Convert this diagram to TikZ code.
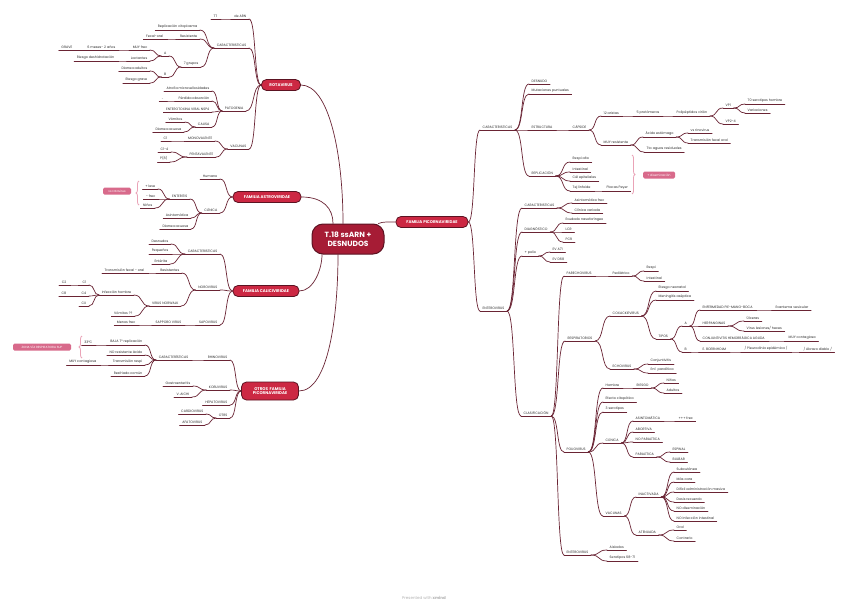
\documentclass[tikz,border=0pt]{standalone}
\usepackage{fontspec}
\setmainfont{Poppins}
\usetikzlibrary{calc,decorations.pathreplacing}
\definecolor{lnc}{HTML}{6A2434}
\definecolor{txc}{HTML}{2C2C2C}
\definecolor{mbf}{HTML}{CC2843}
\definecolor{mbd}{HTML}{5C1322}
\definecolor{ctf}{HTML}{A61C35}
\definecolor{pkf}{HTML}{D86A8B}
\definecolor{pkl}{HTML}{EAA3B7}
\tikzset{
  lc/.style={draw=lnc, line width=0.7pt, line cap=round},
  tn/.style={font=\fontsize{3.35}{4}\selectfont, text=txc, inner xsep=2.5pt, inner ysep=1.2pt},
  rn/.style={tn, anchor=south west},
  ln/.style={tn, anchor=south east},
  mb/.style={rounded corners=5pt, fill=mbf, draw=mbd, line width=0.8pt, text=white,
    font=\fontsize{4}{5}\selectfont\bfseries, minimum height=11pt, inner xsep=3pt, inner ysep=1pt},
  pk/.style={rounded corners=1.5pt, fill=pkf, text=white, font=\fontsize{3}{4}\selectfont,
    minimum height=7pt, inner xsep=2pt, inner ysep=0.5pt},
  brk/.style={draw=pkl, line width=0.8pt, decorate, decoration={brace, amplitude=3pt}},
}
\newcommand{\myR}[4]{\node[rn] (#1) at (#2,#3) {#4}; \draw[lc] (#1.south west) -- (#1.south east);}
\newcommand{\myL}[4]{\node[ln] (#1) at (#2,#3) {#4}; \draw[lc] (#1.south west) -- (#1.south east);}
\newcommand{\lnk}[2]{\draw[lc] let \p1=(#1),\p2=(#2),\n1={0.6*(\x2-\x1)} in (\p1) .. controls ({\x1+(\n1)},\y1) and ({\x2-(\n1)},\y2) .. (\p2);}
\newcommand{\cR}[2]{\lnk{#1.south east}{#2.south west}}
\newcommand{\cL}[2]{\lnk{#1.south west}{#2.south east}}
\newcommand{\cRb}[2]{\lnk{#1.east}{#2.south west}}
\newcommand{\cLb}[2]{\lnk{#1.west}{#2.south east}}
\begin{document}
\begin{tikzpicture}[x=1pt,y=-1pt]
\useasboundingbox (0,0) rectangle (848,605);
\fill[white] (0,0) rectangle (848,605);

% ===== centre and main branches
\node[rounded corners=11pt, fill=ctf, draw=mbd, line width=1pt, text=white, align=center,
  font=\fontsize{7.5}{9}\selectfont\bfseries, minimum width=72pt, minimum height=30pt, inner sep=1pt]
  (ctr) at (348,239) {T.18 ssARN +\\DESNUDOS};
\node[mb,minimum width=39pt] (rot) at (281,85) {ROTAVIRUS};
\node[mb,minimum width=68pt] (ast) at (267,197) {FAMILIA ASTROVIRIDAE};
\node[mb,minimum width=66pt] (cal) at (266,291) {FAMILIA CALICIVIRIDAE};
\node[mb,minimum width=57pt,minimum height=18pt,align=center,font=\fontsize{4}{4.8}\selectfont\bfseries] (otr) at (270,391) {OTROS\ \ FAMILIA\\PICORNAVIRIDAE};
\node[mb,minimum width=72pt] (pic) at (432,222) {FAMILIA PICORNAVIRIDAE};

\draw[lc] (rot.east) .. controls +(28,0) and +(0,-70) .. ([xshift=-5pt]ctr.north);
\draw[lc] (ast.east) .. controls +(22,0) and +(0,-15) .. ([xshift=-15pt]ctr.north);
\draw[lc] (cal.east) .. controls +(14,0) and +(0,15) .. ([xshift=-26pt]ctr.south);
\draw[lc] (otr.east) .. controls +(30,0) and +(0,60) .. ([xshift=-10pt]ctr.south);
\draw[lc] ([xshift=-6pt]ctr.north east) .. controls +(4,-2) and +(-6,0) .. (pic.west);

% ===== ROTAVIRUS
\myL{rA}{249}{19}{de ARN}
\myL{rAa}{220}{19}{TT}
\myL{rB}{249}{48}{CARACTERISTICAS}
\myL{rB1}{200}{30}{Replicación citoplasma}
\myL{rB2}{200}{39}{Resistente}
\myL{rB2a}{166}{39}{Fecal-oral}
\myL{rB3}{201}{67}{7 grupos}
\myL{rB3a}{169}{56}{A}
\myL{rB3a1}{150}{50}{MUY frec}
\myL{rB3a1a}{118}{50}{6 meses- 2 años}
\myL{rB3a1b}{75}{50}{GRAVE}
\myL{rB3a2}{150}{61}{Lactantes}
\myL{rB3a2a}{117}{61}{Riesgo deshidratación}
\myL{rB3b}{169}{77}{B}
\myL{rB3b1}{150}{71}{Diarrea adultos}
\myL{rB3b2}{150}{83}{Riesgo grave}
\myL{rC}{246}{111}{PATOGENIA}
\myL{rC1}{212}{91}{Atrofia microvellosidades}
\myL{rC2}{212}{101}{Pérdida absorción}
\myL{rC2a}{166}{101}{..}
\myL{rC3}{212}{112}{ENTEROTOXINA VIRAL NSP4}
\myL{rC4}{212}{127}{CAUSA}
\myL{rC4a}{185}{122}{Vómitos}
\myL{rC4b}{184}{132}{Diarrea acuosa}
\myL{rD}{249}{149}{VACUNAS}
\myL{rD1}{215}{141}{MONOVALENTE}
\myL{rD1a}{170}{141}{C1}
\myL{rD2}{216}{157}{PENTAVALENTE}
\myL{rD2a}{171}{152}{C1-4}
\myL{rD2b}{170}{162}{P(8)}
\cLb{rot}{rA} \cL{rA}{rAa}
\cLb{rot}{rB} \cL{rB}{rB1} \cL{rB}{rB2} \cL{rB2}{rB2a} \cL{rB}{rB3}
\cL{rB3}{rB3a} \cL{rB3a}{rB3a1} \cL{rB3a1}{rB3a1a} \cL{rB3a1a}{rB3a1b} \cL{rB3a}{rB3a2} \cL{rB3a2}{rB3a2a}
\cL{rB3}{rB3b} \cL{rB3b}{rB3b1} \cL{rB3b}{rB3b2}
\cLb{rot}{rC} \cL{rC}{rC1} \cL{rC}{rC2} \cL{rC2}{rC2a} \cL{rC}{rC3} \cL{rC}{rC4} \cL{rC4}{rC4a} \cL{rC4}{rC4b}
\cLb{rot}{rD} \cL{rD}{rD1} \cL{rD1}{rD1a} \cL{rD}{rD2} \cL{rD2}{rD2a} \cL{rD2}{rD2b}

% ===== ASTROVIRIDAE
\myL{aA}{220}{179}{Humano}
\myL{aB}{220}{213}{CLÍNICA}
\myL{aB1}{190}{199}{ENTERITIS}
\myL{aB1a}{158}{189}{+ leve}
\myL{aB1b}{158}{199}{- frec}
\myL{aB1c}{155}{208}{Niños}
\myL{aB2}{191}{218}{Asintomática}
\myL{aB3}{191}{229}{Diarrea acuosa}
\cLb{ast}{aA} \cLb{ast}{aB} \cL{aB}{aB1} \cL{aB1}{aB1a} \cL{aB1}{aB1b} \cL{aB1}{aB1c} \cL{aB}{aB2} \cL{aB}{aB3}
\draw[brk] (139,205) -- (139,181);
\node[pk,minimum width=28pt] (vsr) at (117,191) {vs rotavirus};

% ===== CALICIVIRIDAE
\myL{cA}{220}{254}{CARACTERISTICAS}
\myL{cA1}{171}{244}{Desnudos}
\myL{cA2}{171}{254}{Pequeños}
\myL{cA3}{170}{264}{Entérita}
\myL{cB}{220}{290}{NOROVIRUS}
\myL{cB1}{182}{273}{Resistentes}
\myL{cB1a}{147}{273}{Transmisión fecal - oral}
\myL{cB2}{181}{306}{VIRUS NORWALK}
\myL{cB2a}{134}{295}{Infección hombre}
\myL{cB2a1}{89}{285}{C1}
\myL{cB2a1a}{69}{285}{C2}
\myL{cB2a2}{89}{296}{C4}
\myL{cB2a2a}{69}{296}{C8}
\myL{cB2a3}{89}{306}{CX}
\myL{cB2b}{135}{316}{Vómitos ??}
\myL{cC}{220}{325}{SAPOVIRUS}
\myL{cC1}{184}{325}{SAPPORO VIRUS}
\myL{cC1a}{138}{325}{Menos frec}
\cLb{cal}{cA} \cL{cA}{cA1} \cL{cA}{cA2} \cL{cA}{cA3}
\cLb{cal}{cB} \cL{cB}{cB1} \cL{cB1}{cB1a} \cL{cB}{cB2} \cL{cB2}{cB2a}
\cL{cB2a}{cB2a1} \cL{cB2a1}{cB2a1a} \cL{cB2a}{cB2a2} \cL{cB2a2}{cB2a2a} \cL{cB2a}{cB2a3} \cL{cB2}{cB2b}
\cLb{cal}{cC} \cL{cC}{cC1} \cL{cC1}{cC1a}

% ===== OTROS
\myL{oA}{230}{360}{RHINOVIRUS}
\myL{oA1}{191}{360}{CARACTERÍSTICAS}
\myL{oA1a}{145}{345}{BAJA T° replicación}
\myL{oA1a1}{95}{345}{33ºC}
\myL{oA1b}{145}{355}{NO resistente ácido}
\myL{oA1c}{145}{365}{Transmisión respi}
\myL{oA1c1}{99}{365}{MUY contagiosa}
\myL{oA1d}{145}{376}{Resfriado común}
\myL{oB}{230}{390}{KOBUVIRUS}
\myL{oB1}{193}{386}{Gastroenteritis}
\myL{oB2}{192}{397}{V. AICHI}
\myL{oC}{230}{405}{HEPATOVIRUS}
\myL{oD}{230}{418}{OTRS}
\myL{oD1}{206}{414}{CARDIOVIRUS}
\myL{oD2}{205}{425}{AFATOVIRUS}
\cLb{otr}{oA} \cL{oA}{oA1} \cL{oA1}{oA1a} \cL{oA1a}{oA1a1} \cL{oA1}{oA1b} \cL{oA1}{oA1c} \cL{oA1c}{oA1c1} \cL{oA1}{oA1d}
\cLb{otr}{oB} \cL{oB}{oB1} \cL{oB}{oB2} \cLb{otr}{oC} \cLb{otr}{oD} \cL{oD}{oD1} \cL{oD}{oD2}
\draw[brk] (82,358) -- (82,336);
\node[pk,minimum width=58pt] (zona) at (42,347) {ZONA VÍA RESPIRATORIA SUP};

% ===== PICORNAVIRIDAE : CARACTERISTICAS
\myR{pA}{480}{130}{CARACTERISTICAS}
\myR{pA1}{529}{84}{DESNUDO}
\myR{pA2}{529}{94}{Mutaciones puntuales}
\myR{pA3}{529}{130}{ESTRUCTURA}
\myR{pA3a}{570}{130}{CÁPSIDE}
\myR{pA3a1}{601}{116}{12 aristas}
\myR{pA3a1a}{634}{116}{5 protómeros}
\myR{pA3a1b}{674}{116}{Polipéptidos virión}
\myR{pVP1}{723}{108}{VP1}
\myR{pVP1a}{745}{104}{70 serotipos hombre}
\myR{pVP1b}{745}{113}{Variaciones}
\myR{pVP2}{723}{124}{VP2-4}
\myR{pA3a2}{601}{145}{MUY resistente}
\myR{pA3a2a}{643}{137}{Ácido estómago}
\myR{pA3a2a1}{688}{133}{vs rinovirus}
\myR{pA3a2a2}{688}{143}{Transmisión fecal oral}
\myR{pA3a2b}{644}{152}{Tto aguas residuales}
\myR{pA4}{529}{176}{REPLICACIÓN}
\myR{pA4a}{570}{162}{Respi alto}
\myR{pA4b}{570}{172}{Intestinal}
\myR{pA4c}{570}{181}{Cél epiteliales}
\myR{pA4d}{570}{191}{Tej linfoide}
\myR{pA4d1}{604}{191}{Placas Peyer}
\cRb{pic}{pA} \cR{pA}{pA1} \cR{pA}{pA2} \cR{pA}{pA3} \cR{pA3}{pA3a}
\cR{pA3a}{pA3a1} \cR{pA3a1}{pA3a1a} \cR{pA3a1a}{pA3a1b} \cR{pA3a1b}{pVP1} \cR{pVP1}{pVP1a} \cR{pVP1}{pVP1b} \cR{pA3a1b}{pVP2}
\cR{pA3a}{pA3a2} \cR{pA3a2}{pA3a2a} \cR{pA3a2a}{pA3a2a1} \cR{pA3a2a}{pA3a2a2} \cR{pA3a2}{pA3a2b}
\cR{pA}{pA4} \cR{pA4}{pA4a} \cR{pA4}{pA4b} \cR{pA4}{pA4c} \cR{pA4}{pA4d} \cR{pA4d}{pA4d1}
\draw[brk] (632,155) -- (632,194);
\node[pk,minimum width=32pt] (dis) at (659,175) {+ diseminación};

% ===== PICORNAVIRIDAE : ENTEROVIRUS
\myR{pB}{480}{311}{ENTEROVIRUS}
\myR{pB1}{522}{208}{CARACTERISTICAS}
\myR{pB1a}{572}{203}{Asintomático frec}
\myR{pB1b}{572}{213}{Clínica variada}
\myR{pB2}{522}{232}{DIAGNÓSTICO}
\myR{pB2a}{563}{223}{Exudado nasofaríngeo}
\myR{pB2b}{563}{232}{LCR}
\myR{pB2c}{563}{242}{PCR}
\myR{pB3}{522}{256}{+ polio}
\myR{pB3a}{550}{252}{EV A71}
\myR{pB3b}{550}{262}{EV D68}
\myR{pB4}{521}{416}{CLASIFICACIÓN}
\cRb{pic}{pB} \cR{pB}{pB1} \cR{pB1}{pB1a} \cR{pB1}{pB1b} \cR{pB}{pB2} \cR{pB2}{pB2a} \cR{pB2}{pB2b} \cR{pB2}{pB2c}
\cR{pB}{pB3} \cR{pB3}{pB3a} \cR{pB3}{pB3b} \cR{pB}{pB4}

\myR{k1}{564}{276}{PARECHOVIRUS}
\myR{k1a}{610}{276}{Pediátrico}
\myR{k1a1}{644}{271}{Respi}
\myR{k1a2}{644}{281}{Intestinal}
\myR{k2}{565}{341}{RESPIRATORIOS}
\myR{k2a}{610}{316}{COXACKIEVIRUS}
\myR{k2a1}{656}{291}{Riesgo neonatal}
\myR{k2a2}{656}{300}{Meningitis aséptica}
\myR{k2a3}{656}{339}{TIPOS}
\myR{tA}{682}{326}{A}
\myR{tA1}{700}{310}{ENFERMEDAD PIE-MANO-BOCA}
\myR{tA1a}{773}{310}{Exantema vesicular}
\myR{tA2}{700}{326}{HERPANGINAS}
\myR{tA2a}{744}{321}{Úlceras}
\myR{tA2b}{744}{331}{Virus lesiones/ heces}
\myR{tA3}{700}{341}{CONJUNTIVITIS HEMORRÁGICA AGUDA}
\myR{tA3a}{786}{341}{MUY contagiosa}
\myR{tB}{682}{352}{B}
\myR{tB1}{700}{352}{E. BOERNHOLM}
\myR{tB1a}{742}{352}{/ Pleurodinia epidémica /}
\myR{tB1b}{801}{352}{/ Abrazo diablo /}
\myR{k2b}{610}{369}{ECHOVIRUS}
\myR{k2b1}{648}{364}{Conjuntivitis}
\myR{k2b2}{648}{373}{Enf. paralítica}
\cR{pB4}{k1} \cR{k1}{k1a} \cR{k1a}{k1a1} \cR{k1a}{k1a2}
\cR{pB4}{k2} \cR{k2}{k2a} \cR{k2a}{k2a1} \cR{k2a}{k2a2} \cR{k2a}{k2a3}
\cR{k2a3}{tA} \cR{tA}{tA1} \cR{tA1}{tA1a} \cR{tA}{tA2} \cR{tA2}{tA2a} \cR{tA2}{tA2b} \cR{tA}{tA3} \cR{tA3}{tA3a}
\cR{k2a3}{tB} \cR{tB}{tB1} \cR{tB1}{tB1a} \cR{tB1a}{tB1b}
\cR{k2}{k2b} \cR{k2b}{k2b1} \cR{k2b}{k2b2}

\myR{k3}{564}{452}{POLIOVIRUS}
\myR{k3a}{603}{388}{Hombre}
\myR{k3a1}{634}{388}{RIESGO}
\myR{k3a1a}{664}{383}{Niños}
\myR{k3a1b}{664}{393}{Adultos}
\myR{k3b}{603}{402}{Efecto citopático}
\myR{k3c}{603}{412}{3 serotipos}
\myR{k3d}{603}{443}{CLÍNICA}
\myR{k3d1}{633}{421}{ASINTOMÁTICA}
\myR{k3d1a}{676}{421}{+++ frec}
\myR{k3d2}{633}{432}{ABORTIVA}
\myR{k3d3}{633}{442}{NO PARALÍTICA}
\myR{k3d4}{633}{457}{PARALÍTICA}
\myR{k3d4a}{670}{452}{ESPINAL}
\myR{k3d4b}{670}{462}{BULBAR}
\myR{k3e}{603}{516}{VACUNAS}
\myR{k3e1}{636}{497}{INACTIVADA}
\myR{k3e1a}{674}{472}{Subcutánea}
\myR{k3e1b}{674}{482}{Más cara}
\myR{k3e1c}{674}{492}{Difícil administración masiva}
\myR{k3e1d}{674}{502}{Dosis recuerdo}
\myR{k3e1e}{674}{511}{NO diseminación}
\myR{k3e1f}{674}{521}{NO infección intestinal}
\myR{k3e2}{636}{535}{ATENUADA}
\myR{k3e2a}{674}{530}{Oral}
\myR{k3e2b}{674}{541}{Contrario}
\myR{k4}{564}{555}{ENTEROVIRUS}
\myR{k4a}{607}{550}{Aislados}
\myR{k4b}{607}{561}{Serotipos 68-71}
\cR{pB4}{k3} \cR{k3}{k3a} \cR{k3a}{k3a1} \cR{k3a1}{k3a1a} \cR{k3a1}{k3a1b} \cR{k3}{k3b} \cR{k3}{k3c}
\cR{k3}{k3d} \cR{k3d}{k3d1} \cR{k3d1}{k3d1a} \cR{k3d}{k3d2} \cR{k3d}{k3d3} \cR{k3d}{k3d4} \cR{k3d4}{k3d4a} \cR{k3d4}{k3d4b}
\cR{k3}{k3e} \cR{k3e}{k3e1} \cR{k3e1}{k3e1a} \cR{k3e1}{k3e1b} \cR{k3e1}{k3e1c} \cR{k3e1}{k3e1d} \cR{k3e1}{k3e1e} \cR{k3e1}{k3e1f}
\cR{k3e}{k3e2} \cR{k3e2}{k3e2a} \cR{k3e2}{k3e2b}
\cR{pB4}{k4} \cR{k4}{k4a} \cR{k4}{k4b}

\node[font=\fontsize{4}{5}\selectfont, text=black!30] (pw) at (424,598) {Presented with \textbf{xmind}};
\end{tikzpicture}
\end{document}
